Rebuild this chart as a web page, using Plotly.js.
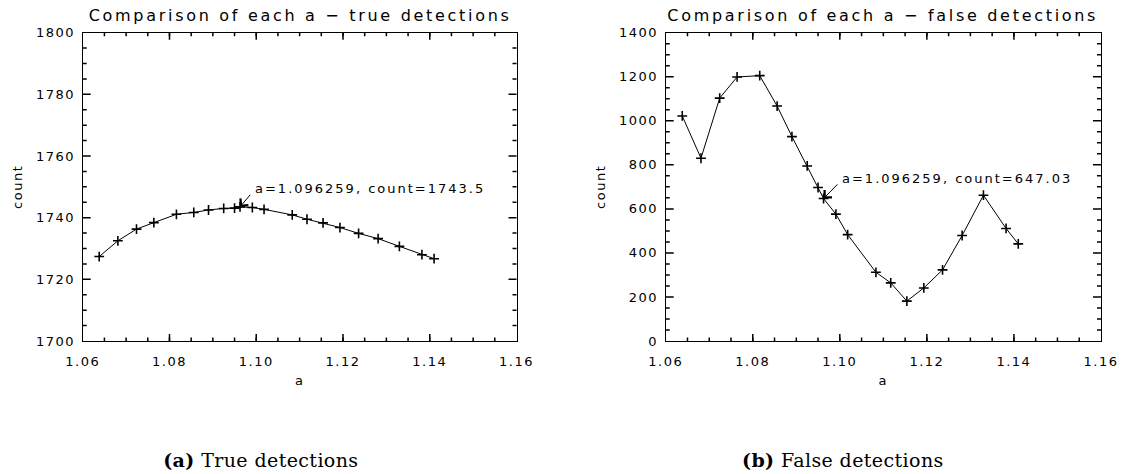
<!DOCTYPE html>
<html>
<head>
<meta charset="utf-8">
<script src="https://cdn.plot.ly/plotly-3.0.1.min.js"></script>
<style>
html, body { margin: 0; padding: 0; background: #fff; }
#chart { width: 1127px; height: 474px; }
#chart text { letter-spacing: 1.5px; }
#chart g.annotation[data-index="0"] text, #chart g.annotation[data-index="1"] text { letter-spacing: 2.7px; }
#chart g.annotation[data-index="2"] text, #chart g.annotation[data-index="3"] text { letter-spacing: 2px; }
#chart g.annotation[data-index="6"] text, #chart g.annotation[data-index="7"] text { letter-spacing: 0.4px; }
#chart path.ticks { shape-rendering: geometricPrecision !important; fill: none !important; }
</style>
</head>
<body>
<div id="chart"></div>
<script>
// scale factor a (shared by both panels)
const aValues = [1.0638, 1.0681, 1.0724, 1.0764, 1.0816, 1.0856, 1.0890, 1.0925, 1.0950, 1.096259, 1.0991,
                 1.1018, 1.1083, 1.1117, 1.1154, 1.1193, 1.1236, 1.1281, 1.1330, 1.1382, 1.1410];
// (a) true detections count
const trueCounts = [1727.4, 1732.5, 1736.3, 1738.4, 1741.1, 1741.7, 1742.5, 1743.0, 1743.1, 1743.5, 1743.3,
                    1742.7, 1740.9, 1739.5, 1738.3, 1736.8, 1734.9, 1733.2, 1730.7, 1728.0, 1726.7];
// (b) false detections count
const falseCounts = [1022, 830, 1103, 1199, 1205, 1067, 928, 795, 697, 647.03, 576,
                     483, 312, 264, 181, 241, 323, 479, 662, 511, 441];

const panelTitles = ["Comparison of each a \u2212 true detections", "Comparison of each a \u2212 false detections"];
const captions = ["<b>(a)</b> True detections", "<b>(b)</b> False detections"];
const xTickVals = [1.06, 1.08, 1.10, 1.12, 1.14, 1.16];
const bestA = 1.096259;
const bestTrue = 1743.5;
const bestFalse = 647.03;

const FONT = "DejaVu Sans, sans-serif";
const BLACK = "#000";
const TICKW = 1.5;

function xAxis(domain, anchor) {
  return {
    domain: domain, anchor: anchor, range: [1.06, 1.16],
    tickvals: xTickVals, tickformat: ".2f",
    ticks: "inside", ticklen: 7, tickwidth: TICKW, tickcolor: BLACK,
    minor: { dtick: 0.005, tick0: 1.06, ticks: "inside", ticklen: 3.5, tickwidth: TICKW, tickcolor: BLACK },
    showline: true, linecolor: BLACK, linewidth: 1, mirror: "ticks",
    showgrid: false, zeroline: false,
    ticklabelstandoff: 8,
    tickfont: { family: FONT, size: 13, color: BLACK },
    title: { text: "a", font: { family: FONT, size: 13, color: BLACK }, standoff: 8 }
  };
}
function yAxis(domain, anchor, range, dtick, minorDtick) {
  return {
    domain: domain, anchor: anchor, range: range,
    dtick: dtick, tick0: range[0],
    ticks: "inside", ticklen: 8, tickwidth: TICKW, tickcolor: BLACK,
    minor: { dtick: minorDtick, tick0: range[0], ticks: "inside", ticklen: 4, tickwidth: TICKW, tickcolor: BLACK },
    showline: true, linecolor: BLACK, linewidth: 1, mirror: "ticks",
    showgrid: false, zeroline: false,
    ticklabelstandoff: 4,
    tickfont: { family: FONT, size: 13, color: BLACK },
    title: { text: "count", font: { family: FONT, size: 13, color: BLACK }, standoff: 16 }
  };
}

const lineStyle = { color: BLACK, width: 1 };
const markerStyle = { symbol: "cross-thin", size: 7, color: BLACK, line: { color: BLACK, width: 1.6 } };

const traces = [
  { x: aValues, y: trueCounts, xaxis: "x", yaxis: "y", mode: "lines+markers", line: lineStyle, marker: markerStyle, showlegend: false },
  { x: aValues, y: falseCounts, xaxis: "x2", yaxis: "y2", mode: "lines+markers", line: lineStyle, marker: markerStyle, showlegend: false }
];

const yDom = [0.2806, 0.9310];
const xDom1 = [0.0734, 0.4583];
const xDom2 = [0.5907, 0.9769];

const ANN_FONT = { family: FONT, size: 13, color: BLACK };
const label1 = "a=" + bestA.toFixed(6) + ", count=" + bestTrue.toFixed(1);
const label2 = "a=" + bestA.toFixed(6) + ", count=" + bestFalse.toFixed(2);
// letter-spacing is not included in the measured text box: shift the box right by half the extra width
const spacingShift = (s) => s.length * 2 / 2;

const annotations = [
  { text: panelTitles[0], xref: "paper", yref: "paper", x: (xDom1[0] + xDom1[1]) / 2, y: 0.967, xanchor: "center", yanchor: "middle",
    showarrow: false, font: { family: FONT, size: 16, color: BLACK } },
  { text: panelTitles[1], xref: "paper", yref: "paper", x: (xDom2[0] + xDom2[1]) / 2, y: 0.967, xanchor: "center", yanchor: "middle",
    showarrow: false, font: { family: FONT, size: 16, color: BLACK } },
  // labels of the best a
  { text: label1, xref: "x", yref: "y", x: 1.0993, y: 1749.4, xanchor: "left", yanchor: "middle", xshift: spacingShift(label1),
    showarrow: false, font: ANN_FONT },
  { text: label2, xref: "x2", yref: "y2", x: 1.1001, y: 740, xanchor: "left", yanchor: "middle", xshift: spacingShift(label2),
    showarrow: false, font: ANN_FONT },
  // arrows pointing to the best a
  { text: "", xref: "x", yref: "y", x: bestA, y: bestTrue, axref: "x", ayref: "y", ax: 1.0989, ay: 1747.9,
    showarrow: true, arrowhead: 4, arrowsize: 2, arrowwidth: 1, arrowcolor: BLACK, standoff: 0, startstandoff: 0, font: ANN_FONT },
  { text: "", xref: "x2", yref: "y2", x: bestA, y: bestFalse, axref: "x2", ayref: "y2", ax: 1.0998, ay: 718,
    showarrow: true, arrowhead: 4, arrowsize: 2, arrowwidth: 1, arrowcolor: BLACK, standoff: 0, startstandoff: 0, font: ANN_FONT },
  { text: captions[0], xref: "paper", yref: "paper", x: 261 / 1127, y: 1 - 460 / 474, xanchor: "center", yanchor: "middle",
    showarrow: false, font: { family: "DejaVu Serif, serif", size: 19, color: BLACK } },
  { text: captions[1], xref: "paper", yref: "paper", x: 843 / 1127, y: 1 - 460 / 474, xanchor: "center", yanchor: "middle",
    showarrow: false, font: { family: "DejaVu Serif, serif", size: 19, color: BLACK } }
];

const layout = {
  width: 1127, height: 474,
  margin: { l: 0, r: 0, t: 0, b: 0 },
  paper_bgcolor: "#fff", plot_bgcolor: "rgba(0,0,0,0)",
  font: { family: FONT, color: BLACK },
  showlegend: false,
  xaxis: xAxis(xDom1, "y"),
  yaxis: yAxis(yDom, "x", [1700, 1800], 20, 5),
  xaxis2: xAxis(xDom2, "y2"),
  yaxis2: yAxis(yDom, "x2", [0, 1400], 200, 50),
  annotations: annotations
};

Plotly.newPlot("chart", traces, layout, { staticPlot: true, displayModeBar: false });
</script>
</body>
</html>
